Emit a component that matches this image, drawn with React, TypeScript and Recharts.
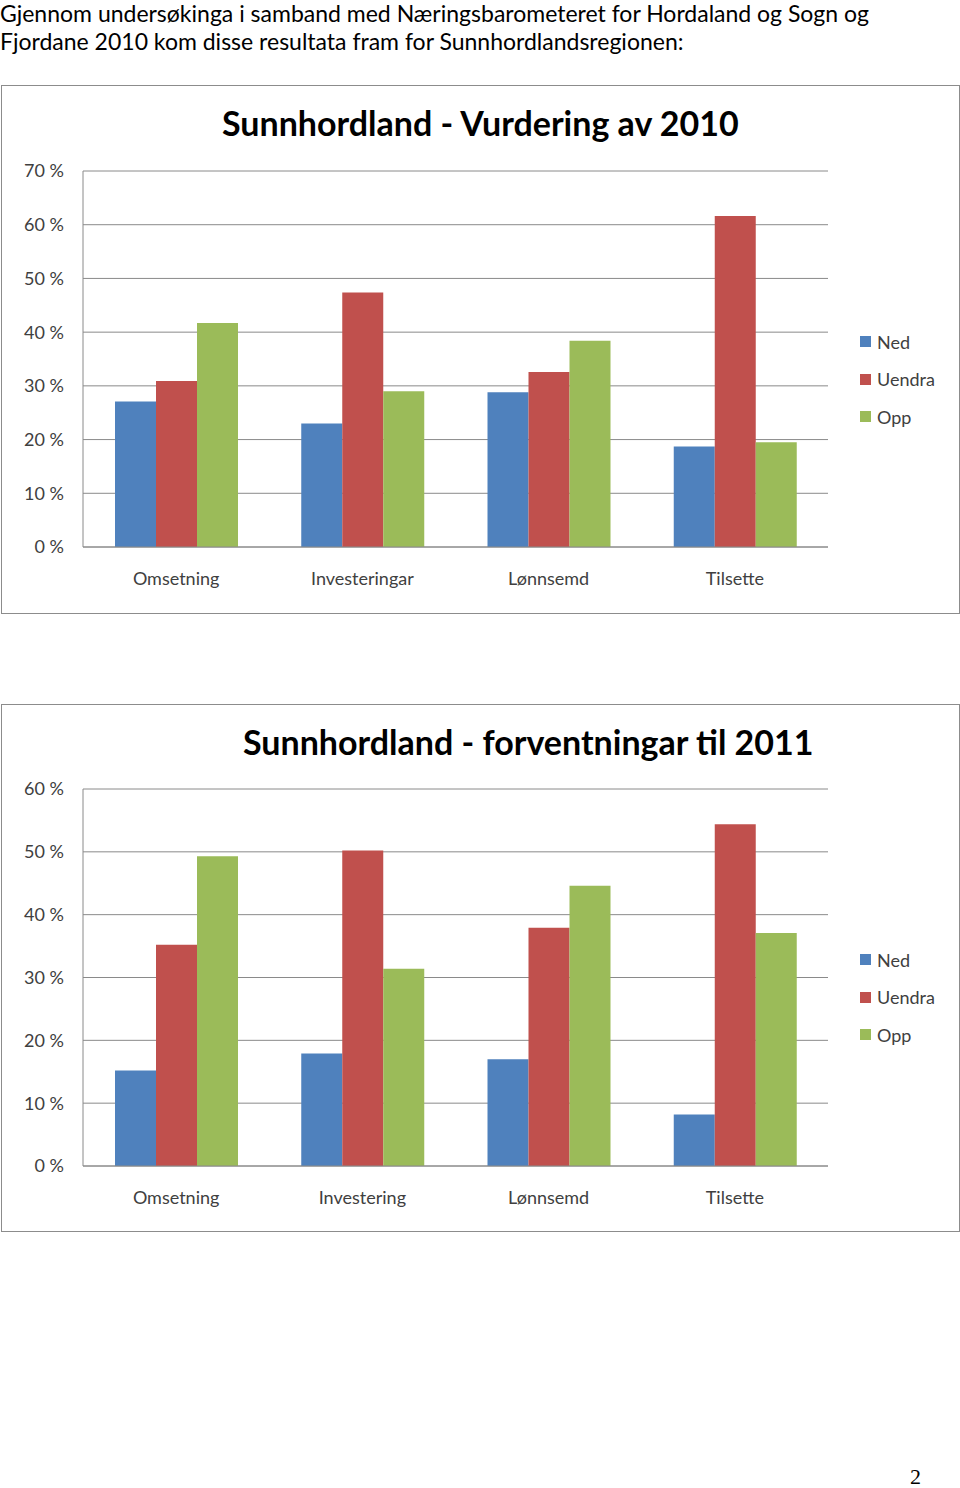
import React from "react";
import { BarChart, Bar, XAxis, YAxis, CartesianGrid } from "recharts";

// Sunnhordland - Vurdering av 2010
const categories2010 = ["Omsetning", "Investeringar", "Lønnsemd", "Tilsette"];
const ned2010 = [27.1, 23.0, 28.8, 18.7];
const uendra2010 = [30.9, 47.4, 32.6, 61.6];
const opp2010 = [41.7, 29.0, 38.4, 19.5];
const ticks2010 = [0, 10, 20, 30, 40, 50, 60, 70];

// Sunnhordland - forventningar til 2011
const categories2011 = ["Omsetning", "Investering", "Lønnsemd", "Tilsette"];
const ned2011 = [15.2, 17.9, 17.0, 8.2];
const uendra2011 = [35.2, 50.2, 37.9, 54.4];
const opp2011 = [49.3, 31.4, 44.6, 37.1];
const ticks2011 = [0, 10, 20, 30, 40, 50, 60];

const seriesNames = ["Ned", "Uendra", "Opp"];
const colors = ["#4F81BD", "#C0504D", "#9BBB59"];

const font = "Lato, 'Open Sans', sans-serif";

const buildRows = (cats: string[], a: number[], b: number[], c: number[]) =>
  cats.map((name, i) => ({ name, Ned: a[i], Uendra: b[i], Opp: c[i] }));

// legend drawn beside the plot, outside recharts so it doesn't eat plot width
const LegendBox = ({ top }: { top: number }) => (
  <div style={{ position: "absolute", left: 858, top, fontFamily: font, fontSize: 18, color: "#404040" }}>
    {seriesNames.map((n, i) => (
      <div key={n} style={{ display: "flex", alignItems: "center", height: 37.5 }}>
        <span style={{ width: 11, height: 11, background: colors[i], display: "inline-block", marginRight: 6 }} />
        {n}
      </div>
    ))}
  </div>
);

type ChartProps = {
  top: number;
  height: number;
  title: string;
  titleLeft: number;
  rows: any[];
  ticks: number[];
  plotTop: number;
  plotBottom: number;
  legendTop: number;
};

const Chart = ({ top, height, title, titleLeft, rows, ticks, plotTop, plotBottom, legendTop }: ChartProps) => (
  <div
    style={{
      position: "absolute",
      left: 1,
      top,
      width: 957,
      height,
      border: "1.5px solid #8c8c8c",
      background: "#fff",
    }}
  >
    <div
      style={{
        position: "absolute",
        left: titleLeft,
        top: 16,
        fontFamily: font,
        fontWeight: 700,
        fontSize: 34,
        color: "#000",
        whiteSpace: "nowrap",
      }}
    >
      {title}
    </div>
    <BarChart
      width={957}
      height={height}
      data={rows}
      margin={{ top: plotTop, right: 131, left: 0, bottom: plotBottom }}
      barGap={0}
      barCategoryGap={32}
    >
      <CartesianGrid vertical={false} stroke="#8a8a8a" strokeWidth={1} />
      <XAxis
        dataKey="name"
        height={30}
        stroke="#8a8a8a"
        tickLine={false}
        tickSize={0}
        tickMargin={25}
        tick={{ fill: "#404040", fontSize: 18, fontFamily: font }}
      />
      <YAxis
        width={81}
        domain={[ticks[0], ticks[ticks.length - 1]]}
        ticks={ticks}
        interval={0}
        stroke="#8a8a8a"
        tickLine={false}
        tickSize={0}
        tickMargin={19}
        tickFormatter={(v: number) => `${v} %`}
        tick={{ fill: "#404040", fontSize: 18, fontFamily: font }}
      />
      {seriesNames.map((n, i) => (
        <Bar key={n} dataKey={n} fill={colors[i]} isAnimationActive={false} />
      ))}
    </BarChart>
    <LegendBox top={legendTop} />
  </div>
);

const headerLine = { position: "absolute" as const, left: 0, fontFamily: font, fontSize: 23, lineHeight: "23px", color: "#000", whiteSpace: "nowrap" as const };

export default function App() {
  return (
    <div style={{ position: "relative", width: 960, height: 1488, background: "#fff", overflow: "hidden" }}>
      <style>{`body{margin:0}`}</style>
      <div style={{ ...headerLine, top: 2 }}>
        Gjennom undersøkinga i samband med Næringsbarometeret for Hordaland og Sogn og
      </div>
      <div style={{ ...headerLine, top: 30 }}>
        Fjordane 2010 kom disse resultata fram for Sunnhordlandsregionen:
      </div>
      <Chart
        top={85}
        height={527}
        title="Sunnhordland - Vurdering av 2010"
        titleLeft={220}
        rows={buildRows(categories2010, ned2010, uendra2010, opp2010)}
        ticks={ticks2010}
        plotTop={85}
        plotBottom={36}
        legendTop={237}
      />
      <Chart
        top={704}
        height={526}
        title="Sunnhordland - forventningar til 2011"
        titleLeft={241}
        rows={buildRows(categories2011, ned2011, uendra2011, opp2011)}
        ticks={ticks2011}
        plotTop={84}
        plotBottom={35}
        legendTop={236}
      />
      <div
        style={{
          position: "absolute",
          left: 910,
          top: 1464,
          fontFamily: "'Liberation Serif', serif",
          fontSize: 22,
          color: "#000",
        }}
      >
        2
      </div>
    </div>
  );
}
